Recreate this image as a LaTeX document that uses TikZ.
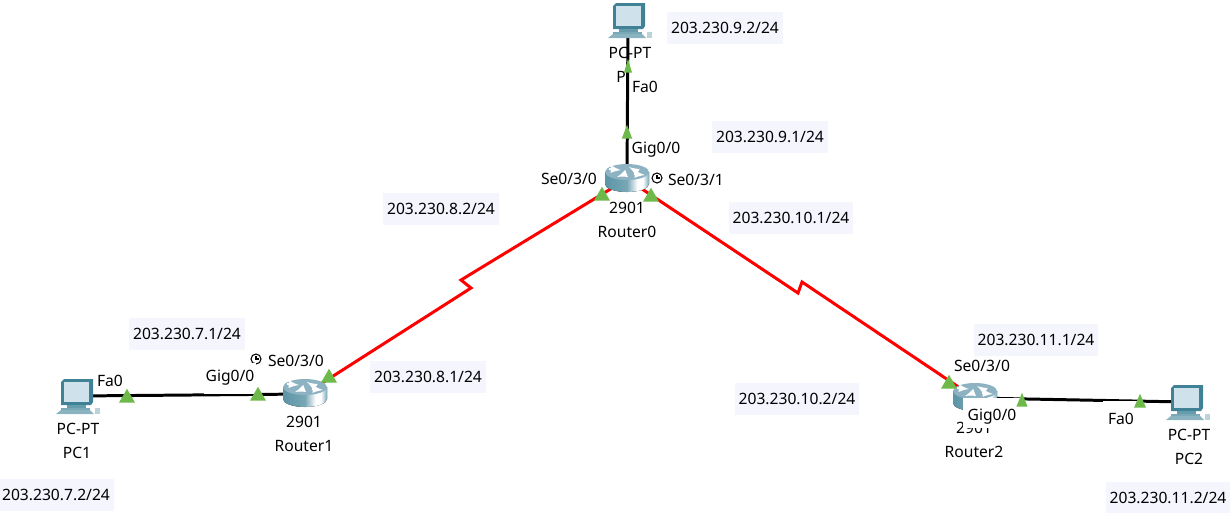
\documentclass[tikz,border=0pt]{standalone}
\usepackage{fontspec}
\setmainfont{Noto Sans}
\usetikzlibrary{shapes.geometric}
\definecolor{labelbg}{HTML}{F5F6FD}
\definecolor{portgreen}{HTML}{6DB94A}
\definecolor{pcblue}{HTML}{3F8296}
\definecolor{pcscreen}{HTML}{CFE1EA}
\definecolor{routertop}{HTML}{8DB3C3}
\pgfdeclarehorizontalshading{routerbody}{100bp}{
  color(0bp)=(pcblue!85); color(25bp)=(pcblue!85); color(50bp)=(pcblue!70);
  color(62bp)=(white); color(68bp)=(white); color(75bp)=(pcblue!70); color(100bp)=(pcblue!80)}
\tikzset{
  iplabel/.style={fill=labelbg,inner xsep=2.3pt,inner ysep=0pt,minimum height=0.64cm,font=\fontsize{8.9}{10}\selectfont},
  devlabel/.style={inner sep=0pt,font=\fontsize{8.9}{10}\selectfont},
  port/.style={regular polygon,regular polygon sides=3,fill=portgreen,inner sep=0pt,minimum size=10.5pt},
  devnode/.style={inner sep=0pt,minimum width=1.5pt,minimum height=1.5pt},
  serial/.style={red,line width=1.7pt},
  ether/.style={black,line width=1.7pt},
  mask/.style={fill=white,inner sep=0pt},
  pics/routericon/.style={code={
    \fill[shading=routerbody] (-22,-7) -- (-22,5) arc[start angle=180,end angle=0,x radius=22,y radius=8] -- (22,-7) -- cycle;
    \fill[routertop] (0,-7) ellipse[x radius=22,y radius=8];
    \draw[white,line width=1pt,-latex] (-18,-10) -- (-6,-9);
    \draw[white,line width=1pt,-latex] (7,-9) -- (2,-12);
    \draw[white,line width=1pt,-latex] (-2,-5) -- (-10,-2);
    \draw[white,line width=1pt,-latex] (7,-5) -- (18,-4);
  }},
  pics/pcicon/.style={code={
    \fill[pcblue] (-15,-14) -- (-12,-17) -- (17,-17) -- (17,6) -- (15,9) -- (-15,9) -- cycle;
    \fill[pcscreen] (-12,-14) rectangle (13,6);
    \fill[pcblue!80] (-9,9) rectangle (10,12);
    \fill[pcblue!70] (-15,12) rectangle (14,14);
    \fill[pcblue!60] (-15,14) -- (14,14) -- (18,18) -- (-20,18) -- cycle;
    \fill[pcblue!35] (19,12) rectangle (24,18);
  }},
  pics/clockicon/.style={code={
    \draw[black,line width=.6pt] (0,0) circle[radius=5];
    \draw[black,line width=.6pt] (0,-3.2) -- (0,0) -- (2.8,0);
  }}
}
\begin{document}
\begin{tikzpicture}[x=0.02cm,y=-0.02cm]
  \useasboundingbox (0,0) rectangle (1230,512);
  % devices
  \draw (627,179) node[devnode] (router0) {};
  \draw (305,394) node[devnode] (router1) {};
  \draw (975,398) node[devnode] (router2) {};
  \draw (628,20) node[devnode] (pc0) {};
  \draw (76,396) node[devnode] (pc1) {};
  \draw (1186,402) node[devnode] (pc2) {};
  % bends of the serial links
  \coordinate (bend1a) at (471,288);
  \coordinate (bend1b) at (461,280);
  \coordinate (bend2a) at (798,293);
  \coordinate (bend2b) at (802,282);
  % device labels
  \node[devlabel] (t0a) at (630,53) {PC-PT};
  \node[devlabel] (t0b) at (621,77) {P};
  \node[devlabel] (t1) at (627,208) {2901};
  \node[devlabel] (t2) at (627,232) {Router0};
  \node[devlabel] (t3) at (304,422) {2901};
  \node[devlabel] (t4) at (304,446) {Router1};
  \node[devlabel] (t5) at (974,428) {2901};
  \node[devlabel] (t6) at (974,452) {Router2};
  \node[devlabel] (t7) at (78,429) {PC-PT};
  \node[devlabel] (t8) at (77,453) {PC1};
  \node[devlabel] (t9) at (1189,435) {PC-PT};
  \node[devlabel] (t10) at (1189,459) {PC2};
  % links
  \draw[ether] (pc0) -- (router0);
  \draw[ether] (pc1) -- (router1);
  \draw[ether] (pc2) -- (router2);
  \draw[serial] (router1) -- (bend1a) -- (bend1b) -- (router0);
  \draw[serial] (router0) -- (bend2a) -- (bend2b) -- (router2);
  % icons
  \path (router0) pic {routericon};
  \path (router1) pic {routericon};
  \path (router2) pic {routericon};
  \path (pc0) pic {pcicon};
  \path (pc1) pic {pcicon};
  \path (pc2) pic {pcicon};
  \path (657,178) pic {clockicon};
  \path (256,359) pic {clockicon};
  % port labels
  \node[mask,minimum width=0.58cm,minimum height=0.46cm] (f1) at (645,87) {\fontsize{8.9}{10}\selectfont Fa0};
  \node[devlabel] (f2) at (656,150) {Gig0/0};
  \node[devlabel] (f3) at (569,179) {Se0/3/0};
  \node[devlabel] (f4) at (696,180) {Se0/3/1};
  \node[devlabel] (f5) at (296,361) {Se0/3/0};
  \node[mask,minimum width=1.04cm,minimum height=0.62cm] (f6) at (230,378) {\fontsize{8.9}{10}\selectfont Gig0/0};
  \node[devlabel] (f7) at (110,381) {Fa0};
  \node[devlabel] (f8) at (982,366) {Se0/3/0};
  \node[mask,minimum width=1.14cm,minimum height=0.6cm] (m9) at (991,413) {};
  \node[devlabel] (f9) at (992,417) {Gig0/0};
  \node[mask,minimum width=0.72cm,minimum height=0.72cm] (f10) at (1121,419) {\fontsize{8.9}{10}\selectfont Fa0};
  % ports
  \node[port,xscale=.5] (p1) at (628,68) {};
  \node[port,xscale=.65] (p2) at (627,134) {};
  \node[port] (p3) at (602,196) {};
  \node[port] (p4) at (651,197) {};
  \node[port] (p5) at (329,378) {};
  \node[port] (p6) at (258,396) {};
  \node[port] (p7) at (127,398) {};
  \node[port] (p8) at (949,384) {};
  \node[port,xscale=.7] (p9) at (1022,402) {};
  \node[port,xscale=.75] (p10) at (1140,403) {};
  % addresses
  \node[iplabel] (ip1) at (725,28) {203.230.9.2/24};
  \node[iplabel] (ip2) at (770,137) {203.230.9.1/24};
  \node[iplabel] (ip3) at (441,209) {203.230.8.2/24};
  \node[iplabel] (ip4) at (791,218) {203.230.10.1/24};
  \node[iplabel] (ip5) at (187,334) {203.230.7.1/24};
  \node[iplabel] (ip6) at (428,377) {203.230.8.1/24};
  \node[iplabel] (ip7) at (1036,340) {203.230.11.1/24};
  \node[iplabel] (ip8) at (797,399) {203.230.10.2/24};
  \node[iplabel] (ip9) at (56,495) {203.230.7.2/24};
  \node[iplabel] (ip10) at (1168,498) {203.230.11.2/24};
\end{tikzpicture}
\end{document}
